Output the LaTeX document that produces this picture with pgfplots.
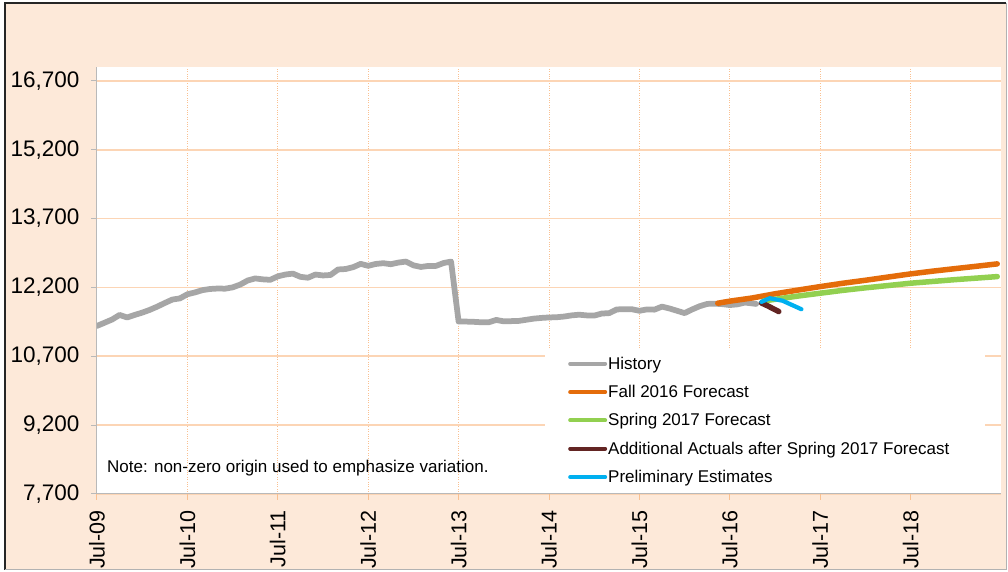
\documentclass[border=0pt]{standalone}
\usepackage{fontspec}
\setmainfont{Liberation Sans}
\usepackage{pgfplots}
\pgfplotsset{compat=1.18}
\definecolor{peach}{HTML}{FDE9D9}
\definecolor{gridh}{HTML}{FCD5B5}
\definecolor{gridv}{HTML}{FAC090}
\definecolor{chist}{HTML}{A6A6A6}
\definecolor{cfall}{HTML}{E46C0A}
\definecolor{cspring}{HTML}{92D050}
\definecolor{cactual}{HTML}{632523}
\definecolor{cprelim}{HTML}{00B0F0}

\begin{document}
\begin{tikzpicture}
  \fill[white] (0,0) rectangle (1008pt,572pt);
  \fill[peach] (5pt,2pt) rectangle (1006pt,569pt);
  \draw[black!85, line width=1.5pt] (5pt,2pt) -- (5pt,569pt) -- (1006pt,569pt);
  \draw[gray!60, line width=1pt] (5pt,2pt) -- (1006pt,2pt) -- (1006pt,569pt);

  \begin{axis}[
    at={(97pt,78pt)}, anchor=south west,
    scale only axis, width=904pt, height=427pt,
    xmin=0, xmax=120, ymin=7700, ymax=17000,
    axis x line*=bottom, axis y line*=left,
    axis line style={draw=gray!55, line width=1pt},
    axis background/.style={fill=white},
    ytick={7700,9200,...,16700},
    xtick={0,12,...,108},
    xticklabels={Jul-09,Jul-10,Jul-11,Jul-12,Jul-13,Jul-14,Jul-15,Jul-16,Jul-17,Jul-18},
    scaled y ticks=false,
    /pgf/number format/1000 sep={,},
    /pgf/number format/assume math mode=true,
    tick align=outside,
    major tick length=6pt,
    y tick style={draw=gray!55, line width=1pt},
    x tick style={draw=gridv, line width=1pt},
    yticklabel style={font=\fontsize{22.5}{26}\selectfont, xshift=-8pt},
    xticklabel style={font=\fontsize{21.5}{25}\selectfont, rotate=90, anchor=east, inner xsep=1pt, inner ysep=1pt, xshift=-9pt},
    ymajorgrids, xmajorgrids,
    y grid style={draw=gridh, line width=1.75pt},
    x grid style={draw=gridv, dotted, line width=1pt},
    legend style={
      at={(0.521,0.324)}, anchor=north west,
      draw=none, fill=none, inner sep=0pt,
      font=\fontsize{17}{20}\selectfont,
      row sep=12.5pt,
      nodes={inner sep=1pt},
    },
    legend cell align=left,
    legend image code/.code={\draw[#1, line width=4pt, line cap=round] (2pt,0pt) -- (37pt,0pt);},
    every axis plot/.append style={line join=round, line cap=round},
  ]
    \fill[white] (rel axis cs:0.4956,0.004) rectangle (rel axis cs:0.9823,0.342);

    \addplot[chist, line width=5.75pt] coordinates {
      (0,11361) (1,11430) (2,11500) (3,11600) (4,11545) (5,11600) (6,11650)
      (7,11710) (8,11781) (9,11860) (10,11935) (11,11960) (12,12050) (13,12090)
      (14,12140) (15,12165) (16,12175) (17,12172) (18,12200) (19,12260) (20,12350)
      (21,12395) (22,12375) (23,12365) (24,12440) (25,12480) (26,12500) (27,12430)
      (28,12410) (29,12480) (30,12460) (31,12470) (32,12590) (33,12600) (34,12640)
      (35,12712) (36,12670) (37,12710) (38,12727) (39,12705) (40,12740) (41,12762)
      (42,12680) (43,12645) (44,12668) (45,12668) (46,12730) (47,12762) (48,11455)
      (49,11455) (50,11450) (51,11440) (52,11440) (53,11491) (54,11460) (55,11465)
      (56,11470) (57,11495) (58,11520) (59,11535) (60,11545) (61,11550) (62,11565)
      (63,11590) (64,11605) (65,11590) (66,11585) (67,11630) (68,11640) (69,11720)
      (70,11724) (71,11724) (72,11690) (73,11720) (74,11715) (75,11781) (76,11740)
      (77,11690) (78,11640) (79,11720) (80,11790) (81,11840) (82,11845) (83,11835)
      (84,11815) (85,11830) (86,11870) (87.5,11840)
    };
    \addplot[cfall, line width=5.5pt] coordinates {
      (82.4,11855) (84,11900) (87,11970) (90,12060) (93,12140) (96,12217)
      (99,12290) (102,12355) (105,12425) (108,12494) (111,12555) (114,12610)
      (117,12665) (119.5,12712)
    };
    \addplot[cspring, line width=5.5pt] coordinates {
      (88.5,11905) (90,11940) (93,12010) (96,12073) (99,12135) (102,12190)
      (105,12240) (108,12291) (111,12330) (114,12370) (117,12405) (119.5,12435)
    };
    \addplot[cactual, line width=5.5pt] coordinates {
      (88.2,11860) (89,11800) (90.5,11673)
    };
    \addplot[cprelim, line width=4.25pt] coordinates {
      (88.2,11885) (89.3,11964) (91,11910) (93.5,11724)
    };
    \legend{History,Fall 2016 Forecast,Spring 2017 Forecast,Additional Actuals after Spring 2017 Forecast,Preliminary Estimates}

    \node[anchor=base west, font=\fontsize{17}{20}\selectfont, inner sep=0pt]
      at (rel axis cs:0.011,0.0515) {Note: non-zero origin used to emphasize variation.};
  \end{axis}
  \pgfresetboundingbox
  \path (0,0) rectangle (1008pt,572pt);
\end{tikzpicture}
\end{document}
